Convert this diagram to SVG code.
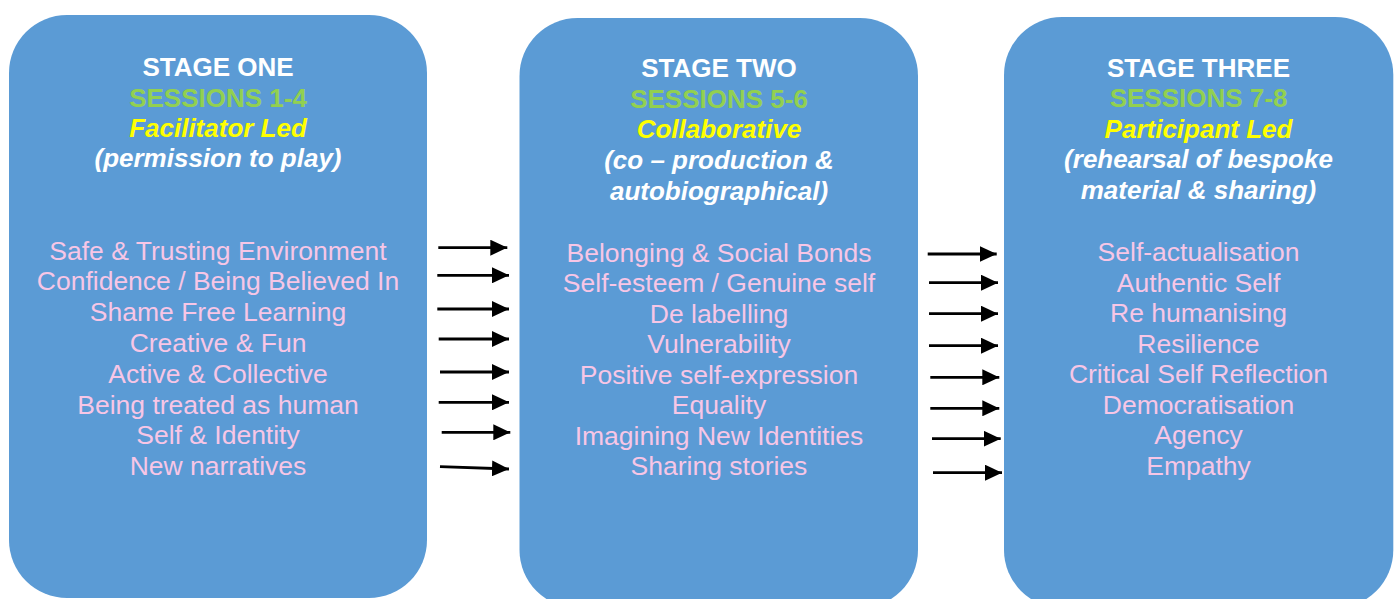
<svg xmlns="http://www.w3.org/2000/svg" width="1397" height="599" viewBox="0 0 1397 599">
<style>
.box{fill:#5B9BD5}
text{font-family:"Liberation Sans",Arial,sans-serif;text-anchor:middle}
.h{font-size:26px;font-weight:bold;fill:#FFFFFF}
.g{font-size:26px;font-weight:bold;fill:#92D050}
.y{font-size:26px;font-weight:bold;font-style:italic;fill:#FFFF00}
.w{font-size:26px;font-weight:bold;font-style:italic;fill:#FFFFFF}
.b{font-size:26.5px;fill:#F7C6E6}
.arr{stroke:#000;stroke-width:2.8;fill:none;marker-end:url(#ah)}
</style>
<defs>
<marker id="ah" viewBox="0 0 17 16" refX="17" refY="8" markerWidth="17" markerHeight="16" markerUnits="userSpaceOnUse" orient="auto">
<path d="M0,0 L17,8 L0,16 z" fill="#000"/>
</marker>
</defs>
<g id="stage-one">
<rect class="box" x="9" y="15" width="418" height="583" rx="58" ry="58"/>
<text class="h" x="218" y="76">STAGE ONE</text>
<text class="g" x="218" y="107">SESSIONS 1-4</text>
<text class="y" x="218" y="137">Facilitator Led</text>
<text class="w" x="218" y="167">(permission to play)</text>
<text class="b" x="218" y="259.5">Safe &amp; Trusting Environment</text>
<text class="b" x="218" y="290.3">Confidence / Being Believed In</text>
<text class="b" x="218" y="321.1">Shame Free Learning</text>
<text class="b" x="218" y="351.9">Creative &amp; Fun</text>
<text class="b" x="218" y="382.7">Active &amp; Collective</text>
<text class="b" x="218" y="413.5">Being treated as human</text>
<text class="b" x="218" y="444.3">Self &amp; Identity</text>
<text class="b" x="218" y="475">New narratives</text>
</g>
<g id="stage-two">
<rect class="box" x="519.5" y="18" width="398.5" height="590" rx="58" ry="58"/>
<text class="h" x="719" y="77">STAGE TWO</text>
<text class="g" x="719" y="108">SESSIONS 5-6</text>
<text class="y" x="719" y="138">Collaborative</text>
<text class="w" x="719" y="169">(co – production &amp;</text>
<text class="w" x="719" y="200">autobiographical)</text>
<text class="b" x="719" y="261.7">Belonging &amp; Social Bonds</text>
<text class="b" x="719" y="292.2">Self-esteem / Genuine self</text>
<text class="b" x="719" y="322.7">De labelling</text>
<text class="b" x="719" y="353.2">Vulnerability</text>
<text class="b" x="719" y="383.7">Positive self-expression</text>
<text class="b" x="719" y="414.2">Equality</text>
<text class="b" x="719" y="444.7">Imagining New Identities</text>
<text class="b" x="719" y="475">Sharing stories</text>
</g>
<g id="stage-three">
<rect class="box" x="1004" y="17" width="389.3" height="591" rx="58" ry="58"/>
<text class="h" x="1198.5" y="77">STAGE THREE</text>
<text class="g" x="1198.5" y="107">SESSIONS 7-8</text>
<text class="y" x="1198.5" y="138">Participant Led</text>
<text class="w" x="1198.5" y="168">(rehearsal of bespoke</text>
<text class="w" x="1198.5" y="199">material &amp; sharing)</text>
<text class="b" x="1198.5" y="261">Self-actualisation</text>
<text class="b" x="1198.5" y="291.6">Authentic Self</text>
<text class="b" x="1198.5" y="322.1">Re humanising</text>
<text class="b" x="1198.5" y="352.7">Resilience</text>
<text class="b" x="1198.5" y="383.3">Critical Self Reflection</text>
<text class="b" x="1198.5" y="413.9">Democratisation</text>
<text class="b" x="1198.5" y="444.4">Agency</text>
<text class="b" x="1198.5" y="475">Empathy</text>
</g>
<g id="connectors">
<line class="arr" x1="438.3" y1="247.7" x2="507.3" y2="247.7"/>
<line class="arr" x1="437.3" y1="275.3" x2="509" y2="275.3"/>
<line class="arr" x1="437.3" y1="309" x2="509" y2="309"/>
<line class="arr" x1="438.7" y1="339" x2="509" y2="339"/>
<line class="arr" x1="440" y1="372" x2="509" y2="372"/>
<line class="arr" x1="438.7" y1="402.3" x2="509" y2="402.3"/>
<line class="arr" x1="441.7" y1="432.3" x2="510.3" y2="432.3"/>
<line class="arr" x1="440" y1="466.7" x2="509" y2="469"/>
<line class="arr" x1="927.7" y1="254" x2="996.7" y2="254"/>
<line class="arr" x1="929" y1="282.7" x2="998" y2="282.7"/>
<line class="arr" x1="929" y1="313.7" x2="998" y2="313.7"/>
<line class="arr" x1="929" y1="345.7" x2="998" y2="345.7"/>
<line class="arr" x1="930.3" y1="377.3" x2="999.3" y2="377.3"/>
<line class="arr" x1="930.3" y1="408.3" x2="999.3" y2="408.3"/>
<line class="arr" x1="932" y1="438.7" x2="1000.7" y2="438.7"/>
<line class="arr" x1="933" y1="472.7" x2="1002" y2="472.7"/>
</g>
</svg>
